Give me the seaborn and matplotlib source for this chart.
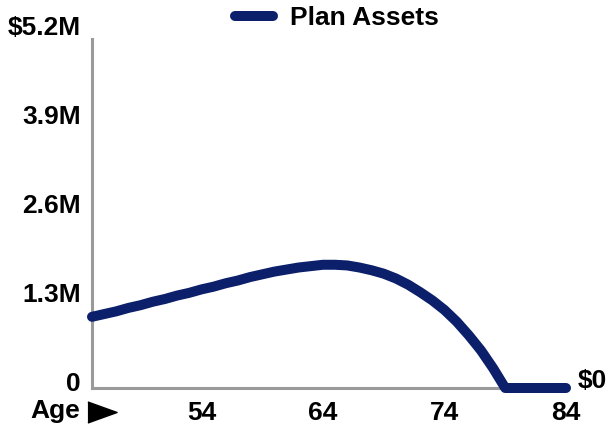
import pandas as pd
import matplotlib
matplotlib.use('Agg')
import matplotlib.pyplot as plt
import matplotlib.transforms as mtransforms
from matplotlib.lines import Line2D
import seaborn as sns

# Plan assets by age (in $M)
ages = list(range(45, 85))
assets = [1.04, 1.08, 1.12, 1.17, 1.21, 1.26, 1.30, 1.35, 1.39, 1.44,
          1.48, 1.53, 1.57, 1.62, 1.66, 1.70, 1.73, 1.76, 1.78, 1.80,
          1.80, 1.79, 1.76, 1.72, 1.67, 1.60, 1.51, 1.40, 1.28, 1.14,
          0.97, 0.77, 0.55, 0.29, 0.00, 0.00, 0.00, 0.00, 0.00, 0.00]
age_ticks = [54, 64, 74, 84]
asset_ticks = [0, 1.3, 2.6, 3.9, 5.2]
asset_labels = ['0', '1.3M', '2.6M', '3.9M', '$5.2M']

df = pd.DataFrame({'Age': ages, 'Assets': assets})

sns.set_style('white')
plt.rcParams['font.family'] = ['Liberation Sans', 'DejaVu Sans']
plt.rcParams['font.weight'] = 'bold'
plt.rcParams['text.color'] = 'black'
plt.rcParams['xtick.color'] = 'black'
plt.rcParams['ytick.color'] = 'black'

navy = '#0b1f6a'
grey = '#9a9a9a'
fs = 19

fig = plt.figure(figsize=(6.11, 4.25), dpi=100)
ax = fig.add_axes([92 / 611, 37 / 425, 474 / 611, 356 / 425])

sns.lineplot(data=df, x='Age', y='Assets', ax=ax, color=navy, linewidth=7.2,
             solid_capstyle='round', solid_joinstyle='round', clip_on=False,
             label='Plan Assets', legend=False)

ax.set_xlim(45, 84)
ax.set_ylim(0, 5.2)
ax.set_xticks(age_ticks)
ax.set_xticklabels([str(a) for a in age_ticks])
ax.set_yticks(asset_ticks)
ax.set_yticklabels(asset_labels)
ax.tick_params(axis='both', length=0, labelsize=fs)
ax.tick_params(axis='x', pad=9)
ax.tick_params(axis='y', pad=8)
ax.set_xlabel('')
ax.set_ylabel('')

for side in ['top', 'right']:
    ax.spines[side].set_visible(False)
for side in ['left', 'bottom']:
    ax.spines[side].set_color(grey)
    ax.spines[side].set_linewidth(2.2)
    ax.spines[side].set_zorder(0)
ax.spines['left'].set_bounds(0, 5.1)

# y labels sit a little above their positions
shift = mtransforms.ScaledTranslation(0, 0.065, fig.dpi_scale_trans)
for lab in ax.get_yticklabels():
    lab.set_transform(lab.get_transform() + shift)

ax.text(1.0, 0, '$0',
        transform=ax.get_yaxis_transform() + mtransforms.ScaledTranslation(0.12, 0.07, fig.dpi_scale_trans),
        ha='left', va='center', fontsize=fs, fontweight='bold', clip_on=False)

# "Age" with a pointer triangle
fig.text(80 / 611, 1 - 411 / 425, 'Age', ha='right', va='center', fontsize=fs, fontweight='bold')
arrow = Line2D([102 / 611], [1 - 412 / 425], transform=fig.transFigure,
               marker=[(-1, -0.72), (1, 0), (-1, 0.72)], markersize=21,
               color='black', linestyle='none')
fig.add_artist(arrow)

handles, labels = ax.get_legend_handles_labels()
fig.legend(handles, labels, loc='center', bbox_to_anchor=(337 / 611, 1 - 18 / 425),
           frameon=False, fontsize=fs, handlelength=1.45, handletextpad=0.65)

fig.savefig('out.png', dpi=100)
